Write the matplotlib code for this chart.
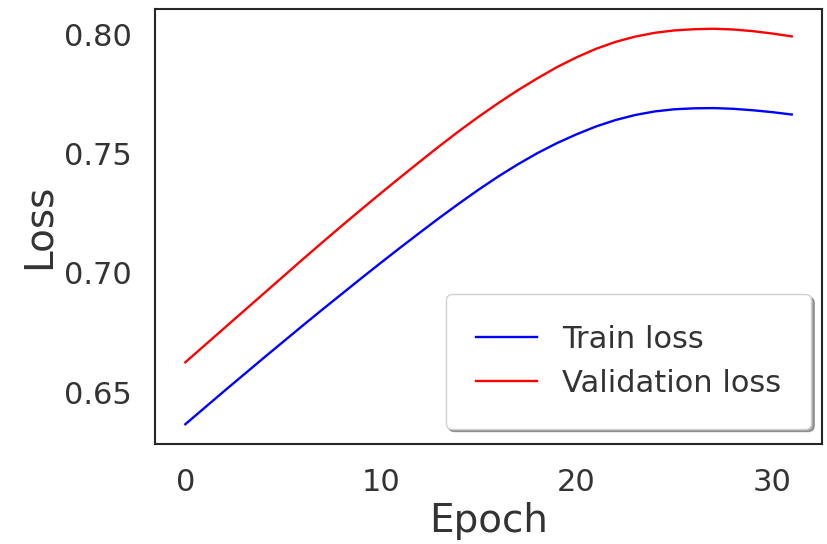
import numpy as np
import matplotlib
matplotlib.use("Agg")
import matplotlib.pyplot as plt

# loss per epoch
epochs = list(range(32))
train_loss = [0.6365, 0.6435, 0.6505, 0.6574, 0.6643, 0.6711, 0.6779, 0.6846,
              0.6912, 0.6978, 0.7043, 0.7107, 0.7170, 0.7232, 0.7292, 0.7350,
              0.7405, 0.7456, 0.7503, 0.7545, 0.7582, 0.7615, 0.7642, 0.7663,
              0.7678, 0.7687, 0.7691, 0.7692, 0.7689, 0.7683, 0.7675, 0.7665]
val_loss = [0.6625, 0.6697, 0.6769, 0.6841, 0.6913, 0.6985, 0.7057, 0.7128,
            0.7198, 0.7267, 0.7335, 0.7402, 0.7468, 0.7533, 0.7596, 0.7656,
            0.7713, 0.7767, 0.7817, 0.7864, 0.7905, 0.7941, 0.7970, 0.7992,
            0.8008, 0.8018, 0.8023, 0.8025, 0.8022, 0.8015, 0.8005, 0.7993]
y_ticks = [0.65, 0.70, 0.75, 0.80]
x_ticks = [0, 10, 20, 30]

text_col = '0.2'
plt.rcParams['font.family'] = ['DejaVu Sans']
plt.rcParams['text.color'] = text_col
plt.rcParams['axes.labelcolor'] = text_col
plt.rcParams['xtick.color'] = text_col
plt.rcParams['ytick.color'] = text_col

fig = plt.figure(figsize=(8.28, 5.44), dpi=100)
ax = fig.add_axes([0.1872, 0.1838, 0.8056, 0.7997])

ax.plot(epochs, train_loss, color='blue', lw=1.7, label='Train loss')
ax.plot(epochs, val_loss, color='red', lw=1.7, label='Validation loss')

ax.set_xticks(x_ticks)
ax.set_yticks(y_ticks)
ax.yaxis.set_major_formatter(matplotlib.ticker.FormatStrFormatter('%.2f'))
ax.tick_params(length=0, pad=17, labelsize=22)

ax.set_xlabel('Epoch', fontsize=28)
ax.set_ylabel('Loss', fontsize=28)

for s in ax.spines.values():
    s.set_color('0.15')
    s.set_linewidth(1.5)

leg = ax.legend(loc='lower right', bbox_to_anchor=(1.007, 0.0), fontsize=22,
                shadow=True, fancybox=True, borderpad=1.0, framealpha=1)
leg.get_frame().set_edgecolor('0.82')

fig.savefig('out.png', dpi=100)
